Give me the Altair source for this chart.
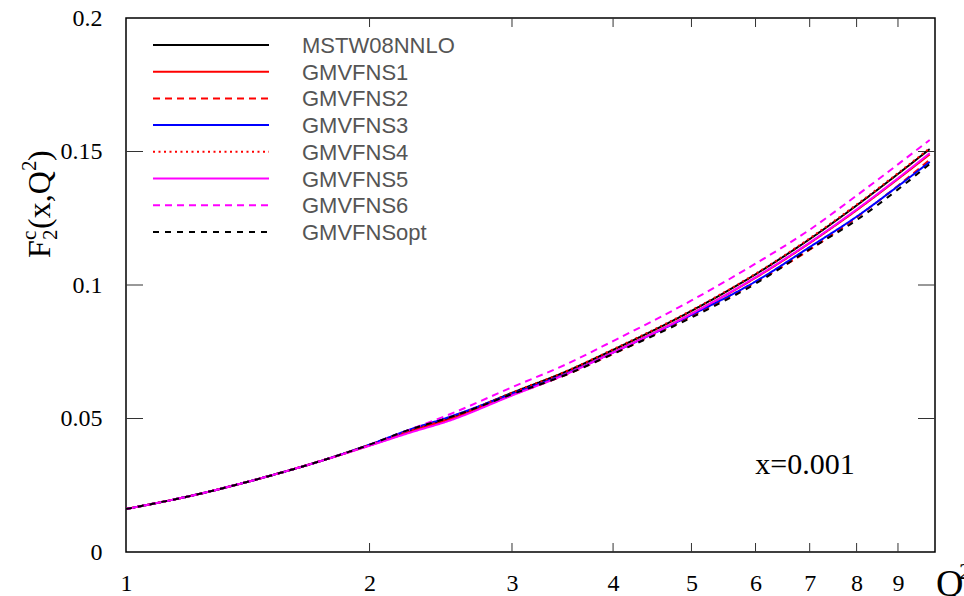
import altair as alt
import pandas as pd

# ---------------- data ----------------
Q2 = [1, 1.25, 1.5, 1.75, 2, 2.25, 2.5, 3, 3.5, 4, 5, 6, 7, 8, 9, 9.85]

series_names = ["MSTW08NNLO", "GMVFNS1", "GMVFNS2", "GMVFNS3",
                "GMVFNS4", "GMVFNS5", "GMVFNS6", "GMVFNSopt"]

MSTW08NNLO = [0.0161, 0.0222, 0.0284, 0.0343, 0.0401, 0.0455, 0.0499, 0.0596,
              0.0676, 0.0757, 0.0903, 0.1040, 0.1172, 0.1298, 0.1416, 0.1509]
GMVFNS1 = [0.0161, 0.0222, 0.0284, 0.0343, 0.0399, 0.0451, 0.0494, 0.0589,
           0.0668, 0.0748, 0.0892, 0.1027, 0.1157, 0.1280, 0.1397, 0.1489]
GMVFNS2 = [0.0161, 0.0222, 0.0284, 0.0343, 0.0401, 0.0455, 0.0498, 0.0588,
           0.0664, 0.0742, 0.0883, 0.1010, 0.1132, 0.1253, 0.1372, 0.1469]
GMVFNS3 = [0.0161, 0.0222, 0.0284, 0.0343, 0.0402, 0.0460, 0.0504, 0.0593,
           0.0668, 0.0747, 0.0888, 0.1013, 0.1142, 0.1256, 0.1370, 0.1461]
GMVFNS4 = [0.0161, 0.0222, 0.0284, 0.0343, 0.0401, 0.0455, 0.0499, 0.0597,
           0.0677, 0.0759, 0.0905, 0.1042, 0.1175, 0.1301, 0.1419, 0.1512]
GMVFNS5 = [0.0161, 0.0222, 0.0284, 0.0343, 0.0398, 0.0448, 0.0490, 0.0586,
           0.0666, 0.0747, 0.0892, 0.1029, 0.1159, 0.1283, 0.1400, 0.1494]
GMVFNS6 = [0.0161, 0.0222, 0.0284, 0.0343, 0.0402, 0.0460, 0.0513, 0.0617,
           0.0703, 0.0790, 0.0942, 0.1080, 0.1207, 0.1335, 0.1452, 0.1543]
GMVFNSopt = [0.0161, 0.0222, 0.0284, 0.0343, 0.0402, 0.0460, 0.0502, 0.0591,
             0.0664, 0.0742, 0.0878, 0.1005, 0.1134, 0.1243, 0.1358, 0.1453]

series_values = [MSTW08NNLO, GMVFNS1, GMVFNS2, GMVFNS3,
                 GMVFNS4, GMVFNS5, GMVFNS6, GMVFNSopt]

x_tick_values = [1, 2, 3, 4, 5, 6, 7, 8, 9]
y_tick_values = [0, 0.05, 0.1, 0.15, 0.2]

# ---------------- styles ----------------
colors = ["#000000", "#ff0000", "#ff0000", "#0000ff",
          "#ff0000", "#ff00ff", "#ff00ff", "#000000"]
dashes = [[1, 0], [1, 0], [7, 5], [1, 0], [2, 3.5], [1, 0], [7, 5], [6, 6]]

W, H = 809, 534
SERIF = "Liberation Serif"
SANS = "Liberation Sans"

xscale = alt.Scale(type="log", domain=[1, 10], nice=False)
yscale = alt.Scale(domain=[0, 0.2], nice=False, zero=False)

xaxis = alt.Axis(values=x_tick_values, format="d", title=None, ticks=False,
                 grid=False, domain=False, labelFont=SERIF, labelFontSize=24,
                 labelColor="black", labelPadding=19, labelFlush=False)
yaxis = alt.Axis(values=y_tick_values, labelExpr="format(datum.value, '.2~f')",
                 title=None, ticks=False, grid=False, domain=False,
                 labelFont=SERIF, labelFontSize=24, labelColor="black",
                 labelPadding=24, labelFlush=False)

one = pd.DataFrame({"a": [0]})
layers = []

# inside tick marks (mirrored on all four sides)
xt = pd.DataFrame({"q2": [v for v in x_tick_values if v > 1]})
yt = pd.DataFrame({"f": [v for v in y_tick_values if 0 < v < 0.2]})
tick_style = dict(color="#333333", strokeWidth=1)
layers.append(alt.Chart(xt).mark_rule(**tick_style).encode(
    x=alt.X("q2:Q", scale=xscale, axis=xaxis), y=alt.value(H), y2=alt.value(H - 9)))
layers.append(alt.Chart(xt).mark_rule(**tick_style).encode(
    x=alt.X("q2:Q", scale=xscale, axis=xaxis), y=alt.value(0), y2=alt.value(9)))
layers.append(alt.Chart(yt).mark_rule(**tick_style).encode(
    y=alt.Y("f:Q", scale=yscale, axis=yaxis), x=alt.value(0), x2=alt.value(17)))
layers.append(alt.Chart(yt).mark_rule(**tick_style).encode(
    y=alt.Y("f:Q", scale=yscale, axis=yaxis), x=alt.value(W - 17), x2=alt.value(W)))

# curves
for name, vals, col, dash in zip(series_names, series_values, colors, dashes):
    d = pd.DataFrame({"q2": Q2, "f": vals, "series": name})
    layers.append(alt.Chart(d).mark_line(
        color=col, strokeDash=dash, strokeWidth=2, interpolate="monotone", clip=True
    ).encode(
        x=alt.X("q2:Q", scale=xscale, axis=xaxis),
        y=alt.Y("f:Q", scale=yscale, axis=yaxis),
    ))

# legend (key lines + labels)
for i, (name, col, dash) in enumerate(zip(series_names, colors, dashes)):
    yy = 27 + 26.7 * i
    layers.append(alt.Chart(one).mark_rule(color=col, strokeDash=dash, strokeWidth=2).encode(
        x=alt.value(27), x2=alt.value(143), y=alt.value(yy)))
    layers.append(alt.Chart(one).mark_text(
        text=name, font=SANS, fontSize=22, color="#555555", align="left", baseline="middle"
    ).encode(x=alt.value(176), y=alt.value(yy + 1)))

# annotation
layers.append(alt.Chart(one).mark_text(
    text="x=0.001", font=SERIF, fontSize=30, color="black", align="center", baseline="middle"
).encode(x=alt.value(679), y=alt.value(447)))

# y title  F^c_2(x,Q^2), rotated
def ytxt(t, size, xabs, ystart):
    return alt.Chart(one).mark_text(
        text=t, font=SERIF, fontSize=size, color="black", angle=270,
        align="left", baseline="alphabetic"
    ).encode(x=alt.value(xabs - 126), y=alt.value(ystart - 18))

layers.append(ytxt("F", 32, 50, 258))
layers.append(ytxt("c", 21, 36, 240))
layers.append(ytxt("2", 21, 57, 240))
layers.append(ytxt("(x,Q", 32, 50, 229))
layers.append(ytxt("2", 21, 36, 171))
layers.append(ytxt(")", 32, 50, 161))

# x title Q^2 (partly cut at the right/bottom edge, as in the original)
layers.append(alt.Chart(one).mark_text(
    text="Q", font=SERIF, fontSize=38, color="black", align="left", baseline="alphabetic"
).encode(x=alt.value(936 - 126), y=alt.value(596 - 18)))
layers.append(alt.Chart(one).mark_text(
    text="2", font=SERIF, fontSize=24, color="black", align="left", baseline="alphabetic"
).encode(x=alt.value(959 - 126), y=alt.value(579 - 18)))

chart = alt.layer(*layers).properties(
    width=W, height=H,
    padding={"left": 126, "top": 18, "right": 29, "bottom": 44},
    autosize="none",
    background="white",
).configure_view(stroke="black", strokeWidth=1.5).configure_axis(
    labelFont=SERIF, labelFontSize=24, labelColor="black"
)

chart.save("out.html", embed_options={"renderer": "svg", "actions": False})
